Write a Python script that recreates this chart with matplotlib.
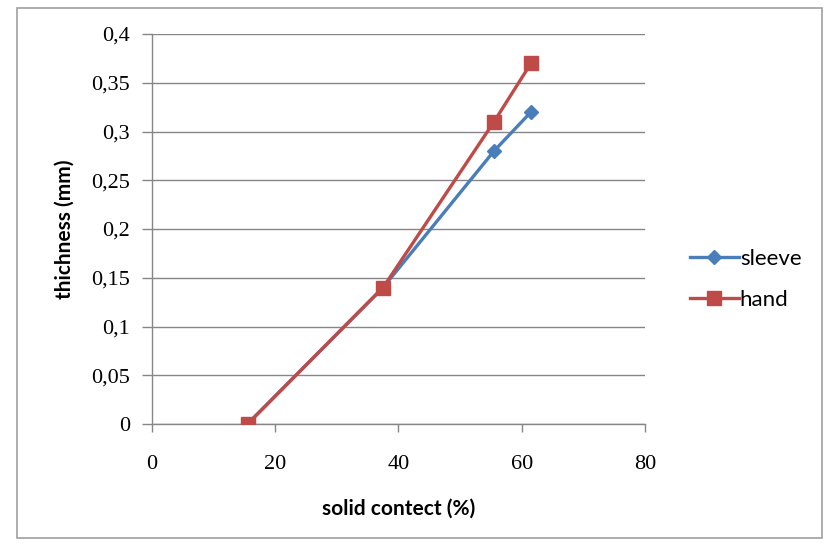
import matplotlib
matplotlib.use("Agg")
import matplotlib.pyplot as plt
from matplotlib.patches import Rectangle
from matplotlib.ticker import FuncFormatter

# data
solid_content = [15.5, 37.5, 55.5, 61.5]
sleeve = [0.0, 0.14, 0.28, 0.32]
hand = [0.0, 0.14, 0.31, 0.37]

x_ticks = [0, 20, 40, 60, 80]
y_ticks = [0, 0.05, 0.1, 0.15, 0.2, 0.25, 0.3, 0.35, 0.4]

blue = "#4A7EBB"
red = "#BE4B48"
grid_col = "#868686"

fig = plt.figure(figsize=(8.25, 5.43), dpi=100)
fig.patch.set_facecolor("white")

# outer chart frame
fig.patches.append(Rectangle((17 / 825, 1 - 538 / 543), 805 / 825, 530 / 543,
                             transform=fig.transFigure, fill=False,
                             edgecolor="#A0A0A0", linewidth=1.2))

ax = fig.add_axes([152 / 825, 1 - 424 / 543, 493 / 825, 390 / 543])

ax.plot(solid_content, sleeve, color=blue, linewidth=2.4, marker="D",
        markersize=7, markerfacecolor=blue, markeredgecolor=blue,
        label="sleeve", zorder=3)
ax.plot(solid_content, hand, color=red, linewidth=2.4, marker="s",
        markersize=10, markerfacecolor=red, markeredgecolor=red,
        label="hand", zorder=4)

ax.set_xlim(0, 80)
ax.set_ylim(0, 0.4)
ax.set_xticks(x_ticks)
ax.set_yticks(y_ticks)
ax.yaxis.set_major_formatter(FuncFormatter(lambda v, p: f"{v:g}".replace(".", ",")))

ax.yaxis.grid(True, color=grid_col, linewidth=1.0)
ax.set_axisbelow(True)

for s in ["top", "right"]:
    ax.spines[s].set_visible(False)
for s in ["left", "bottom"]:
    ax.spines[s].set_color(grid_col)
    ax.spines[s].set_linewidth(1.0)

ax.tick_params(axis="y", length=7, width=1.0, color=grid_col, pad=9,
               labelsize=16)
ax.tick_params(axis="x", length=6, width=1.0, color=grid_col, pad=16,
               labelsize=16)
for lab in ax.get_xticklabels() + ax.get_yticklabels():
    lab.set_fontfamily("Liberation Serif")

ax.set_xlabel("solid contect (%)", fontsize=15, fontweight="bold",
              fontfamily="Lato", labelpad=18)
ax.set_ylabel("thichness (mm)", fontsize=15, fontweight="bold",
              fontfamily="Lato", labelpad=12)

leg = ax.legend(loc="center left", bbox_to_anchor=(1.091, 0.37),
                frameon=False, handlelength=2.2, borderpad=0,
                borderaxespad=0, handletextpad=0.05, labelspacing=0.95,
                prop={"family": "Lato", "size": 16})

fig.savefig("out.png", dpi=100, facecolor="white")
